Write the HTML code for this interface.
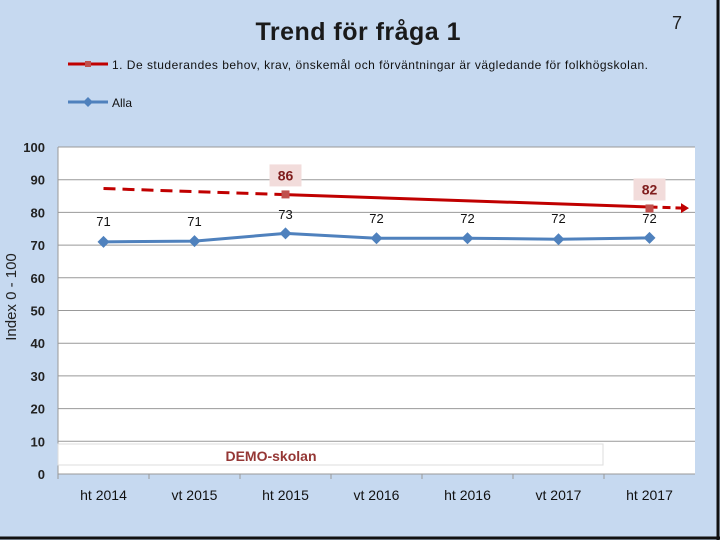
<!DOCTYPE html>
<html><head><meta charset="utf-8"><style>
body{margin:0;width:720px;height:540px;overflow:hidden;background:#c6d9f0;font-family:"Liberation Sans",sans-serif}
</style></head><body>
<svg width="720" height="540" style="position:absolute;left:0;top:0">
<rect x="0" y="0" width="720" height="540" fill="#c6d9f0"/>
<line x1="0" y1="538" x2="720" y2="538" stroke="#111" stroke-width="3"/>
<line x1="718" y1="0" x2="718" y2="540" stroke="#111" stroke-width="3"/>
<text x="358" y="40" text-anchor="middle" font-size="25" font-weight="bold" fill="#1a1a1a" textLength="205">Trend för fråga 1</text>
<text x="677" y="29" text-anchor="middle" font-size="18" fill="#222">7</text>
<g>
<line x1="68" y1="64" x2="108" y2="64" stroke="#c00000" stroke-width="3"/><rect x="85" y="61" width="6" height="6" fill="#c0504d"/>
<text x="112" y="69" font-size="12" fill="#111" textLength="536">1. De studerandes behov, krav, önskemål och förväntningar är vägledande för folkhögskolan.</text></g>
<g>
<line x1="68" y1="102" x2="108" y2="102" stroke="#4f81bd" stroke-width="3"/><path d="M88 97 L93 102 L88 107 L83 102Z" fill="#4f81bd"/>
<text x="112" y="107" font-size="12" fill="#111">Alla</text></g>
<rect x="58" y="147" width="637" height="327" fill="#fff"/>
<g id="grid"></g><g id="marks"></g>
<rect x="58" y="444" width="545" height="21" fill="#fff" stroke="#ddd"/>
<text x="271" y="461" text-anchor="middle" font-size="14" font-weight="bold" fill="#953735">DEMO-skolan</text>
<text transform="translate(16,297) rotate(-90)" text-anchor="middle" font-size="15" fill="#222">Index 0 - 100</text>
</svg>
<script>
const categories=["ht 2014","vt 2015","ht 2015","vt 2016","ht 2016","vt 2017","ht 2017"];
const allaValues=[71,71.2,73.6,72.1,72.1,71.8,72.2];
const allaLabels=["71","71","73","72","72","72","72"];
const questionValues=[null,null,85.5,null,null,null,81.2];
const questionLabels=[null,null,"86",null,null,null,"82"];
const yTicks=[0,10,20,30,40,50,60,70,80,90,100];
const trendStart=87.3,trendEnd=81.3;
const NS="http://www.w3.org/2000/svg";
const x0=58,w=637,yb=474,ht=327;
const xs=i=>x0+(i+0.5)*w/categories.length;
const ys=v=>yb-v/100*ht;
function mk(t,a,p){const e=document.createElementNS(NS,t);for(const k in a)e.setAttribute(k,a[k]);p.appendChild(e);return e;}
const g=document.getElementById('grid'),m=document.getElementById('marks');
yTicks.forEach(v=>{const l=mk('line',{x1:x0,x2:x0+w,y1:ys(v),y2:ys(v),stroke:'#999','stroke-width':1},g);


const t=mk('text',{x:45,y:ys(v)+5,'text-anchor':'end','font-size':13,'font-weight':'bold',fill:'#222'},g);t.textContent=v;

});
mk('line',{x1:x0,x2:x0,y1:147,y2:yb,stroke:'#999'},g);
categories.forEach((c,i)=>{const t=mk('text',{x:xs(i),y:500,'text-anchor':'middle','font-size':14,fill:'#111'},g);t.textContent=c;


mk('line',{x1:x0+i*w/7,x2:x0+i*w/7,y1:yb,y2:yb+5,stroke:'#999'},g);});
// trendline: dashed before first data point, solid between, dashed after
const tx1=xs(0),tx2=x0+w-10;
const ty=x=>ys(trendStart)+(x-tx1)/(tx2-tx1)*(ys(trendEnd)-ys(trendStart));
const xa=xs(2),xb=xs(6);
[[tx1,xa,'12,7'],[xa,xb,'none'],[xb,tx2,'8,5']].forEach(s=>{
const tr=mk('line',{x1:s[0],y1:ty(s[0]),x2:s[1],y2:ty(s[1]),stroke:'#c00000','stroke-width':3,'stroke-dasharray':s[2]},m);

});
const ar=mk('path',{d:`M${tx2-4} ${ys(trendEnd)-5} L${tx2+4} ${ys(trendEnd)} L${tx2-4} ${ys(trendEnd)+5}Z`,fill:'#c00000'},m);


const pts=allaValues.map((v,i)=>xs(i)+','+ys(v)).join(' ');
const pl=mk('polyline',{points:pts,fill:'none',stroke:'#4f81bd','stroke-width':3},m);


allaValues.forEach((v,i)=>{const x=xs(i),y=ys(v);
const d=mk('path',{d:`M${x} ${y-6} L${x+6} ${y} L${x} ${y+6} L${x-6} ${y}Z`,fill:'#4f81bd'},m);


const t=mk('text',{x:x,y:226,'text-anchor':'middle','font-size':13,fill:'#111'},m);t.textContent=allaLabels[i];
t.setAttribute('y', i==2?219:(i==0||i==1?226:223));

});
questionValues.forEach((v,i)=>{if(v==null)return;const x=xs(i),y=ys(v);
const r=mk('rect',{x:x-4,y:y-4,width:8,height:8,fill:'#c0504d'},m);


const b=mk('rect',{x:x-16,y:y-30,width:32,height:22,fill:'#f2dcdb'},m);


const t=mk('text',{x:x,y:y-14,'text-anchor':'middle','font-size':14,'font-weight':'bold',fill:'#7f1d1d'},m);t.textContent=questionLabels[i];

});
</script>
</body></html>
